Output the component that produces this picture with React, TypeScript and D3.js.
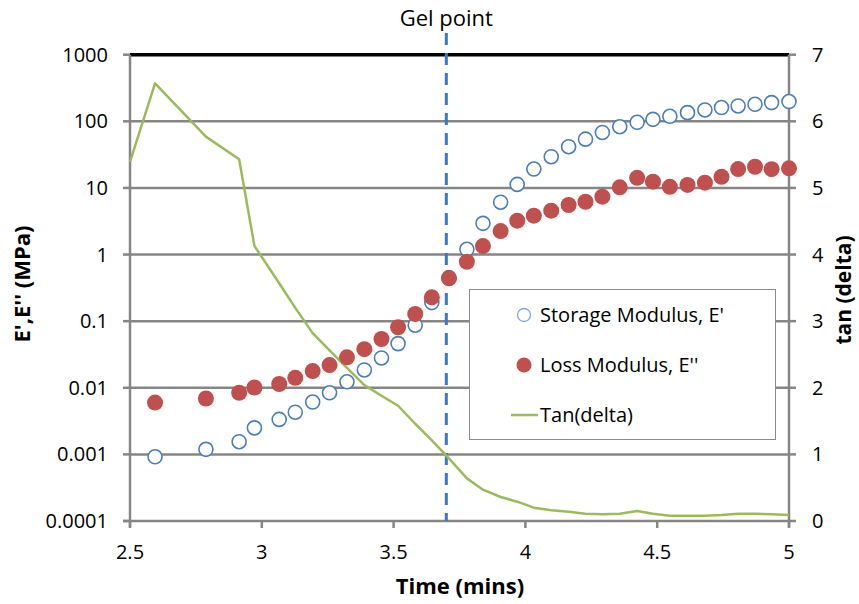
import React, { useEffect, useRef } from "react";
import * as d3 from "d3";

// time (mins) for the modulus points
const time = [
  2.595, 2.788, 2.914, 2.972, 3.066, 3.127, 3.193, 3.257, 3.323, 3.389, 3.454, 3.517,
  3.582, 3.645, 3.71, 3.778, 3.839, 3.906, 3.969, 4.032, 4.098, 4.164, 4.228, 4.292,
  4.358, 4.424, 4.484, 4.548, 4.615, 4.681, 4.744, 4.807, 4.871, 4.934, 5.0,
];
// E' (MPa)
const storage = [
  0.00092, 0.00119, 0.00155, 0.0025, 0.00335, 0.0043, 0.0061, 0.0084, 0.0123, 0.0185,
  0.028, 0.046, 0.087, 0.19, 0.45, 1.2, 2.94, 6.1, 11.3, 19.2, 29.4, 41.6, 54, 68, 83,
  96.6, 107, 119, 135, 148, 161, 170, 180, 191, 198,
];
// E'' (MPa)
const loss = [
  0.006, 0.0069, 0.0084, 0.0101, 0.0114, 0.0141, 0.0178, 0.0219, 0.0286, 0.038, 0.054,
  0.081, 0.128, 0.228, 0.44, 0.78, 1.34, 2.25, 3.22, 3.83, 4.55, 5.54, 6.2, 7.4, 10.2,
  14.2, 12.4, 10.4, 11.1, 12.0, 14.7, 19.2, 20.8, 19.1, 19.7,
];
// tan(delta) has one extra point at 2.5
const tanTime = [2.5, ...time];
const tanDelta = [
  5.39, 6.57, 5.77, 5.43, 4.13, 3.57, 3.2, 2.82, 2.56, 2.3, 2.04, 1.88, 1.73, 1.46, 1.21,
  0.94, 0.64, 0.47, 0.36, 0.29, 0.2, 0.16, 0.14, 0.11, 0.1, 0.11, 0.15, 0.11, 0.08, 0.08,
  0.08, 0.09, 0.11, 0.11, 0.1, 0.09,
];

const xTicks = [2.5, 3, 3.5, 4, 4.5, 5];
const yTicks = [0.0001, 0.001, 0.01, 0.1, 1, 10, 100, 1000];
const yTickLabels = ["0.0001", "0.001", "0.01", "0.1", "1", "10", "100", "1000"];
const y2Ticks = [0, 1, 2, 3, 4, 5, 6, 7];
const gelPoint = 3.7;

const FONT = "'Open Sans', sans-serif";
const GRID = "#868686";

const App = () => {
  const ref = useRef<SVGSVGElement | null>(null);

  useEffect(() => {
    const svg = d3.select(ref.current);
    svg.selectAll("*").remove();

    const left = 130, right = 789, top = 54.7, bottom = 521;

    const x = d3.scaleLinear().domain([2.5, 5]).range([left, right]);
    const y = d3.scaleLog().domain([0.0001, 1000]).range([bottom, top]);
    const y2 = d3.scaleLinear().domain([0, 7]).range([bottom, top]);

    // gridlines
    svg
      .selectAll(".grid")
      .data(yTicks.slice(1, -1))
      .enter()
      .append("line")
      .attr("x1", left)
      .attr("x2", right)
      .attr("y1", (d) => y(d))
      .attr("y2", (d) => y(d))
      .attr("stroke", GRID)
      .attr("stroke-width", 2.5);

    // top line (1000)
    svg
      .append("line")
      .attr("x1", left)
      .attr("x2", right)
      .attr("y1", y(1000))
      .attr("y2", y(1000))
      .attr("stroke", "#000")
      .attr("stroke-width", 3.5);

    // axes
    const axisG = svg.append("g").attr("stroke", GRID).attr("stroke-width", 2.5);
    axisG.append("line").attr("x1", left).attr("x2", left).attr("y1", top).attr("y2", bottom + 6);
    axisG.append("line").attr("x1", right).attr("x2", right).attr("y1", top).attr("y2", bottom + 6);
    axisG.append("line").attr("x1", left - 7).attr("x2", right).attr("y1", bottom).attr("y2", bottom);
    yTicks.forEach((t) => {
      axisG.append("line").attr("x1", left - 7).attr("x2", left).attr("y1", y(t)).attr("y2", y(t));
    });
    y2Ticks.forEach((t) => {
      axisG.append("line").attr("x1", right).attr("x2", right + 7).attr("y1", y2(t)).attr("y2", y2(t));
    });
    xTicks.forEach((t) => {
      axisG.append("line").attr("x1", x(t)).attr("x2", x(t)).attr("y1", bottom).attr("y2", bottom + 7);
    });

    // tick labels
    svg
      .selectAll(".ylab")
      .data(yTicks)
      .enter()
      .append("text")
      .attr("x", 108)
      .attr("y", (d) => y(d))
      .attr("dy", "0.35em")
      .attr("text-anchor", "end")
      .text((d, i) => yTickLabels[i])
      .style("font-family", FONT)
      .style("font-size", "20px")
      .style("fill", "#000");

    svg
      .selectAll(".y2lab")
      .data(y2Ticks)
      .enter()
      .append("text")
      .attr("x", 812)
      .attr("y", (d) => y2(d))
      .attr("dy", "0.35em")
      .text((d) => d)
      .style("font-family", FONT)
      .style("font-size", "20px")
      .style("fill", "#000");

    svg
      .selectAll(".xlab")
      .data(xTicks)
      .enter()
      .append("text")
      .attr("x", (d) => x(d))
      .attr("y", 559)
      .attr("text-anchor", "middle")
      .text((d) => d)
      .style("font-family", FONT)
      .style("font-size", "20px")
      .style("fill", "#000");

    // axis titles
    svg
      .append("text")
      .attr("x", 460)
      .attr("y", 594)
      .attr("text-anchor", "middle")
      .text("Time (mins)")
      .style("font-family", FONT)
      .style("font-size", "22px")
      .style("font-weight", "700");

    svg
      .append("text")
      .attr("transform", "translate(30,284) rotate(-90)")
      .attr("text-anchor", "middle")
      .text("E',E'' (MPa)")
      .style("font-family", FONT)
      .style("font-size", "22px")
      .style("font-weight", "700");

    svg
      .append("text")
      .attr("transform", "translate(851,290) rotate(-90)")
      .attr("text-anchor", "middle")
      .text("tan (delta)")
      .style("font-family", FONT)
      .style("font-size", "21px")
      .style("font-weight", "700");

    // gel point marker
    svg
      .append("line")
      .attr("x1", x(gelPoint))
      .attr("x2", x(gelPoint))
      .attr("y1", 33)
      .attr("y2", bottom)
      .attr("stroke", "#3a78c6")
      .attr("stroke-width", 3)
      .attr("stroke-dasharray", "12,8");

    svg
      .append("text")
      .attr("x", x(gelPoint))
      .attr("y", 26)
      .attr("text-anchor", "middle")
      .text("Gel point")
      .style("font-family", FONT)
      .style("font-size", "22px");

    // tan(delta) line
    const line = d3
      .line<number>()
      .x((d, i) => x(tanTime[i]))
      .y((d) => y2(d));

    svg
      .append("path")
      .datum(tanDelta)
      .attr("d", line)
      .attr("fill", "none")
      .attr("stroke", "#9bbb59")
      .attr("stroke-width", 2.5)
      .attr("stroke-linejoin", "round");

    // storage modulus (open circles)
    svg
      .selectAll(".storage")
      .data(storage)
      .enter()
      .append("circle")
      .attr("cx", (d, i) => x(time[i]))
      .attr("cy", (d) => y(d))
      .attr("r", 7)
      .attr("fill", "#fff")
      .attr("stroke", "#4a7ebb")
      .attr("stroke-width", 1.6);

    // loss modulus (filled)
    svg
      .selectAll(".loss")
      .data(loss)
      .enter()
      .append("circle")
      .attr("cx", (d, i) => x(time[i]))
      .attr("cy", (d) => y(d))
      .attr("r", 8)
      .attr("fill", "#c0504d");

    // legend
    const lg = svg.append("g");
    lg.append("rect")
      .attr("x", 469.5)
      .attr("y", 289.5)
      .attr("width", 306)
      .attr("height", 150)
      .attr("fill", "#fff")
      .attr("stroke", "#8c8c8c")
      .attr("stroke-width", 1);
    lg.append("circle")
      .attr("cx", 524)
      .attr("cy", 315)
      .attr("r", 6.5)
      .attr("fill", "#fff")
      .attr("stroke", "#7fa6d6")
      .attr("stroke-width", 1.3);
    lg.append("circle").attr("cx", 524).attr("cy", 365).attr("r", 7.5).attr("fill", "#c0504d");
    lg.append("line")
      .attr("x1", 511)
      .attr("x2", 538)
      .attr("y1", 415)
      .attr("y2", 415)
      .attr("stroke", "#9bbb59")
      .attr("stroke-width", 2.5);
    const entries = ["Storage Modulus, E'", "Loss Modulus, E''", "Tan(delta)"];
    entries.forEach((t, i) => {
      lg.append("text")
        .attr("x", 540)
        .attr("y", 315 + i * 50)
        .attr("dy", "0.35em")
        .text(t)
        .style("font-family", FONT)
        .style("font-size", "20px");
    });
  }, []);

  return (
    <svg
      ref={ref}
      width={859}
      height={604}
      style={{ position: "absolute", left: 0, top: 0, background: "#fff" }}
    ></svg>
  );
};

export default App;
